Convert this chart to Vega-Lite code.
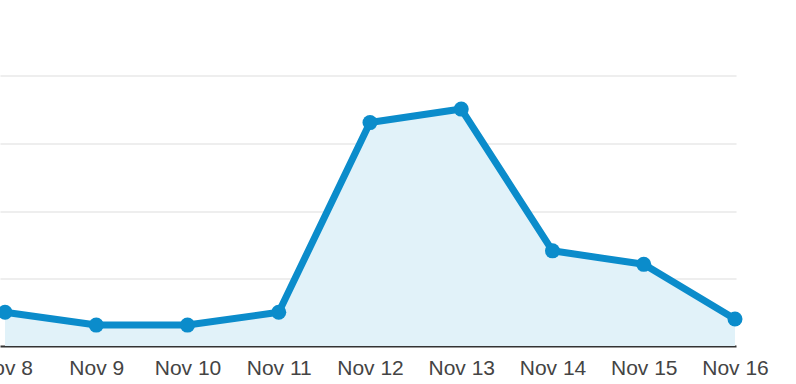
{
  "$schema": "https://vega.github.io/schema/vega-lite/v6.json",
  "autosize": "none",
  "width": 736,
  "height": 337.5,
  "padding": {"top": 8.5, "left": 0, "right": 60, "bottom": 38},
  "background": "white",
  "config": {"view": {"stroke": null}, "font": "Liberation Sans"},
  "data": {"values": [
    {"date": "2023-11-08", "value": 0.50},
    {"date": "2023-11-09", "value": 0.31},
    {"date": "2023-11-10", "value": 0.31},
    {"date": "2023-11-11", "value": 0.50},
    {"date": "2023-11-12", "value": 3.31},
    {"date": "2023-11-13", "value": 3.51},
    {"date": "2023-11-14", "value": 1.41},
    {"date": "2023-11-15", "value": 1.21},
    {"date": "2023-11-16", "value": 0.40}
  ]},
  "encoding": {
    "x": {
      "field": "date", "type": "temporal",
      "scale": {"type": "utc", "domain": [{"year": 2023, "month": 11, "date": 7, "hours": 22, "minutes": 41, "utc": true}, {"year": 2023, "month": 11, "date": 16, "hours": 0, "minutes": 16, "utc": true}]},
      "axis": {
        "title": null,
        "values": [
          {"year": 2023, "month": 11, "date": 8, "utc": true},
          {"year": 2023, "month": 11, "date": 9, "utc": true},
          {"year": 2023, "month": 11, "date": 10, "utc": true},
          {"year": 2023, "month": 11, "date": 11, "utc": true},
          {"year": 2023, "month": 11, "date": 12, "utc": true},
          {"year": 2023, "month": 11, "date": 13, "utc": true},
          {"year": 2023, "month": 11, "date": 14, "utc": true},
          {"year": 2023, "month": 11, "date": 15, "utc": true},
          {"year": 2023, "month": 11, "date": 16, "utc": true}
        ],
        "labelExpr": "utcFormat(datum.value, '%b %-d')",
        "grid": false,
        "ticks": false,
        "domainColor": "#333333",
        "domainWidth": 2,
        "labelFontSize": 21,
        "labelColor": "#444444",
        "labelPadding": 11,
        "labelOverlap": false,
        "labelFlush": false,
        "labelBound": false
      }
    },
    "y": {
      "field": "value", "type": "quantitative",
      "scale": {"domain": [0, 5], "nice": false, "zero": true},
      "axis": {
        "title": null,
        "values": [1, 2, 3, 4],
        "labels": false,
        "ticks": false,
        "domain": false,
        "grid": true,
        "gridColor": "#e8e8e8",
        "gridWidth": 1.5
      }
    }
  },
  "layer": [
    {"mark": {"type": "area", "color": "#e1f2f9", "opacity": 1}},
    {"mark": {"type": "line", "color": "#0b8ccb", "strokeWidth": 7, "strokeJoin": "round"}},
    {"mark": {"type": "point", "filled": true, "color": "#0b8ccb", "opacity": 1, "size": 225}}
  ]
}
